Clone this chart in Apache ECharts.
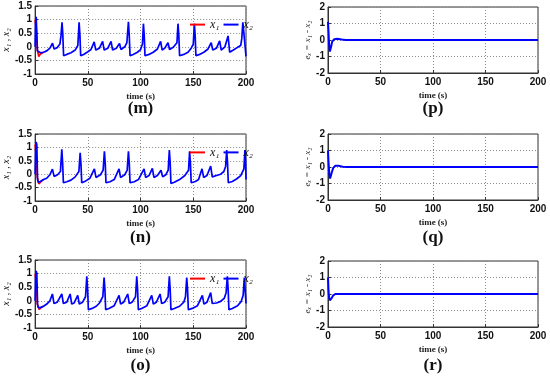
<!DOCTYPE html>
<html>
<head>
<meta charset="utf-8">
<script src="https://cdn.jsdelivr.net/npm/echarts@6/dist/echarts.min.js"></script>
<style>html,body{margin:0;padding:0;background:#fff;}#c{width:550px;height:385px;}</style>
</head>
<body>
<div id="c"></div>
<script>
// ---- tick labels ----
const xTicks = [0, 50, 100, 150, 200];
const stateTicks = [-1, -0.5, 0, 0.5, 1, 1.5];
const errTicks = [-2, -1, 0, 1, 2];
const panelLabels = ['(m)', '(n)', '(o)', '(p)', '(q)', '(r)'];
const legendNames = ['x\u2081', 'x\u2082'];

// ---- panel (m): x2 and the visible (transient) part of x1 ----
const x2_m = [[0,0],[0.5,0.9],[1,1.1],[1.5,1.05],[2.2,-0.15],[3,-0.22],[5,-0.22],[8,-0.2],[11,-0.15],[14,-0.05],[16.5,0.13],[18,-0.08],[21,-0.03],[23.5,0.1],[24.5,0.4],[25.5,0.9],[26.2,0.5],[27,-0.33],[30,-0.28],[34,-0.22],[38,-0.12],[40.5,0.05],[41.7,0.9],[42.5,0.4],[43.2,-0.33],[46,-0.28],[50,-0.18],[53,-0.1],[56,0.18],[57.5,-0.12],[61,-0.05],[64,0.2],[65.5,-0.12],[69,-0.05],[72,0.2],[73.5,-0.12],[77,-0.05],[80,0.12],[81.5,-0.1],[85,0],[87,0.15],[88.5,0.92],[89.3,0.4],[90,-0.33],[93,-0.28],[97,-0.2],[100,-0.1],[101.8,0.1],[102.7,0.85],[103.5,0.4],[104.2,-0.33],[108,-0.28],[112,-0.2],[116,-0.08],[119,0.2],[120.5,-0.12],[123,-0.05],[126,0.15],[127.5,-0.1],[131,-0.02],[134.5,0.15],[135.5,0.85],[136.3,0.4],[137,-0.33],[141,-0.28],[145,-0.2],[148,-0.05],[150,0.1],[151,0.85],[151.8,0.4],[152.5,-0.33],[156,-0.28],[160,-0.2],[164,-0.08],[167,0.15],[168.5,-0.12],[172,-0.05],[175,0.22],[176.5,-0.12],[180,0],[183,0.4],[184.5,-0.2],[188,-0.12],[192,-0.02],[195,0.05],[196,0.3],[197,0.9],[198,0.5],[200,-0.35]];
const x1_m = [[0,1.0],[0.5,1.05],[1.2,0.6],[2,-0.1],[3.5,-0.36],[5,-0.26],[6.5,-0.21],[8,-0.2]];

// ---- panel (n) ----
const x2_n = [[0,0],[0.5,0.9],[1,1.2],[1.6,1.1],[2.3,-0.2],[3,-0.3],[5,-0.27],[8,-0.2],[11,-0.15],[14,-0.02],[16.4,0.19],[18,-0.08],[21,-0.03],[24,0.1],[25.3,0.93],[26.1,0.4],[26.8,-0.32],[30,-0.28],[34,-0.22],[38,-0.1],[41.5,0.1],[42.7,0.8],[43.5,0.35],[44.2,-0.32],[48,-0.25],[52,-0.15],[56.2,0.2],[57.7,-0.12],[62,-0.02],[64.5,0.15],[65.7,0.85],[66.5,0.4],[67.2,-0.32],[71,-0.28],[75,-0.2],[79.6,0.2],[81,-0.12],[85,-0.02],[87.3,0.15],[88.5,0.85],[89.3,0.4],[90,-0.32],[94,-0.28],[98,-0.2],[103.3,0.2],[104.8,-0.12],[108,-0.05],[111.2,0.22],[112.7,-0.12],[116,-0.05],[119.4,0.15],[121,-0.1],[124,-0.02],[126.2,0.15],[127.3,0.9],[128.1,0.4],[128.8,-0.35],[132,-0.3],[137,-0.2],[142,-0.05],[145.5,0.15],[146.5,0.85],[147.3,0.4],[148,-0.32],[152,-0.27],[155,-0.2],[158.3,0.2],[159.8,-0.12],[163,-0.05],[166.5,0.3],[168,-0.1],[172,-0.05],[176,0],[179,0.1],[180.7,0.3],[181.7,0.9],[182.5,0.4],[183.2,-0.32],[187,-0.27],[191,-0.18],[195,-0.05],[198,0.2],[199,0.9],[199.6,0.5],[200,-0.2]];
const x1_n = [[0,1.1],[0.5,1.15],[1.2,0.6],[2,-0.1],[3.5,-0.36],[5,-0.3],[6.5,-0.24],[8,-0.2]];

// ---- panel (o) ----
const x2_o = [[0,0],[0.5,0.9],[1,1.1],[1.6,1.0],[2.3,-0.15],[3,-0.25],[5,-0.25],[8,-0.2],[11,-0.12],[14,0],[16.4,0.25],[17.9,-0.1],[21,-0.05],[25.3,0.25],[26.8,-0.1],[30,-0.05],[33.2,0.25],[34.7,-0.12],[37,-0.08],[40.4,0.2],[41.9,-0.12],[45,-0.05],[47.8,0.15],[49,0.9],[49.8,0.4],[50.5,-0.33],[54,-0.28],[58,-0.2],[61,-0.08],[64.2,0.15],[65.4,0.85],[66.2,0.4],[66.9,-0.33],[70,-0.28],[75,-0.18],[79.6,0.2],[81.1,-0.12],[84,-0.05],[87.8,0.25],[89.3,-0.1],[92,-0.05],[95.2,0.15],[96.4,0.9],[97.2,0.4],[97.9,-0.33],[101,-0.28],[106,-0.18],[110.6,0.2],[112.1,-0.12],[115,-0.05],[118.5,0.25],[120,-0.1],[123,-0.05],[126.1,0.15],[127.3,0.9],[128.1,0.4],[128.8,-0.33],[132,-0.28],[137,-0.2],[141,-0.05],[142.6,0.15],[143.8,0.85],[144.6,0.4],[145.3,-0.33],[149,-0.28],[154,-0.18],[158.6,0.2],[160.1,-0.12],[163,-0.05],[166.5,0.3],[168,-0.1],[172,-0.08],[176,-0.02],[179.5,0.1],[181.1,0.3],[182.3,0.9],[183.1,0.4],[183.8,-0.33],[187,-0.28],[192,-0.18],[195.5,-0.02],[197.3,0.2],[198.4,0.85],[199.2,0.4],[200,-0.1]];
const x1_o = [[0,1.0],[0.5,1.05],[1.2,0.6],[2,-0.1],[3.8,-0.32],[5,-0.28],[6.5,-0.22],[8,-0.2]];

// ---- error panels (p), (q), (r) ----
const e_p = [[0,1.1],[0.5,0.5],[1,-0.2],[1.8,-0.7],[2.3,-0.75],[3,-0.4],[4,-0.1],[6,0.05],[9,0.07],[13,0.03],[17,0],[200,0]];
const e_q = [[0,1.0],[0.5,0.3],[1.2,-0.4],[2,-0.7],[2.6,-0.72],[3.5,-0.35],[5,-0.05],[7,0.08],[10,0.07],[14,0.02],[18,0],[200,0]];
const e_r = [[0,1.0],[0.5,0.2],[1,-0.2],[1.8,-0.38],[2.5,-0.4],[3.5,-0.25],[5,-0.08],[7,0],[200,0]];

const stateSets = [[x1_m, x2_m], [x1_n, x2_n], [x1_o, x2_o]];
const errSets = [e_p, e_q, e_r];

// layout
const grids = [
  {left: 35, top: 6, width: 211, height: 68},
  {left: 35, top: 134, width: 211, height: 67},
  {left: 35, top: 260, width: 211, height: 68},
  {left: 328, top: 7, width: 210, height: 66},
  {left: 328, top: 134, width: 210, height: 66},
  {left: 328, top: 261, width: 210, height: 66}
];
const labelY = [109, 238, 366];

const serif = "'Liberation Serif','DejaVu Serif',serif";
const sans = "'Liberation Sans',Arial,sans-serif";
const frame = '#333';

const xAxes = [], yAxes = [], series = [], legends = [], graphics = [];
grids.forEach((g, i) => {
  xAxes.push({
    type: 'value', gridIndex: i,
    min: xTicks[0], max: xTicks[xTicks.length - 1], interval: xTicks[1] - xTicks[0],
    name: 'time (s)', nameLocation: 'middle', nameGap: 18,
    nameTextStyle: {fontFamily: serif, fontWeight: 'bold', fontSize: 9, color: '#222'},
    axisLine: {show: true, onZero: false, lineStyle: {color: frame, width: 1}},
    axisTick: {show: true, inside: true, length: 3, lineStyle: {color: frame}},
    axisLabel: {fontFamily: sans, fontWeight: 'bold', fontSize: 10, color: '#111', margin: 4},
    splitLine: {show: true, lineStyle: {color: '#8a8a8a', type: [1, 2], width: 1}}
  });
  const isState = i < 3;
  const ticks = isState ? stateTicks : errTicks;
  yAxes.push({
    type: 'value', gridIndex: i,
    min: ticks[0], max: ticks[ticks.length - 1], interval: ticks[1] - ticks[0],
    name: isState ? 'x\u2081 , x\u2082' : 'e\u2093 = x\u2081 - x\u2082',
    nameLocation: 'middle', nameGap: isState ? 21 : 15, nameRotate: 90,
    nameTextStyle: {fontFamily: serif, fontStyle: 'italic', fontSize: isState ? 10 : 9, color: '#222'},
    axisLine: {show: true, onZero: false, lineStyle: {color: frame, width: 1}},
    axisTick: {show: true, inside: true, length: 3, lineStyle: {color: frame}},
    axisLabel: {fontFamily: sans, fontWeight: 'bold', fontSize: 10, color: '#111', margin: 3},
    splitLine: {show: true, lineStyle: {color: '#8a8a8a', type: [1, 2], width: 1}}
  });
  graphics.push({
    type: 'text', x: g.left + g.width / 2, y: labelY[i % 3],
    style: {text: panelLabels[i], font: 'bold 17px ' + serif,
      textAlign: 'center', textVerticalAlign: 'middle', align: 'center', verticalAlign: 'middle', fill: '#111'}
  });
});

stateSets.forEach((set, i) => {
  series.push({
    type: 'line', name: legendNames[0], xAxisIndex: i, yAxisIndex: i, data: set[0],
    showSymbol: false, symbol: 'none', color: '#ff0000',
    lineStyle: {color: '#ff0000', width: 1.7}, itemStyle: {color: '#ff0000'}, z: 2
  });
  series.push({
    type: 'line', name: legendNames[1], xAxisIndex: i, yAxisIndex: i, data: set[1],
    showSymbol: false, symbol: 'none', color: '#0000ff',
    lineStyle: {color: '#0000ff', width: 1.7}, itemStyle: {color: '#0000ff'}, z: 3
  });
  const g = grids[i];
  legends.push({
    data: legendNames, left: 184, top: g.top + g.height * 0.2 - 6,
    itemWidth: 15, itemHeight: 8, itemGap: 3, selectedMode: false,
    itemStyle: {opacity: 0},
    textStyle: {fontFamily: serif, fontStyle: 'italic', fontSize: 12, color: '#111'}
  });
});

errSets.forEach((d, k) => {
  const i = k + 3;
  series.push({
    type: 'line', name: 'e' + k, xAxisIndex: i, yAxisIndex: i, data: d,
    showSymbol: false, symbol: 'none', color: '#0000ff',
    lineStyle: {color: '#0000ff', width: 2}, itemStyle: {color: '#0000ff'}
  });
});

const chart = echarts.init(document.getElementById('c'), null, {renderer: 'canvas'});
chart.setOption({
  animation: false,
  backgroundColor: '#fff',
  grid: grids.map(g => Object.assign({show: true, borderColor: frame, borderWidth: 1, backgroundColor: 'transparent'}, g)),
  xAxis: xAxes,
  yAxis: yAxes,
  legend: legends,
  series: series,
  graphic: graphics
});
</script>
</body>
</html>
